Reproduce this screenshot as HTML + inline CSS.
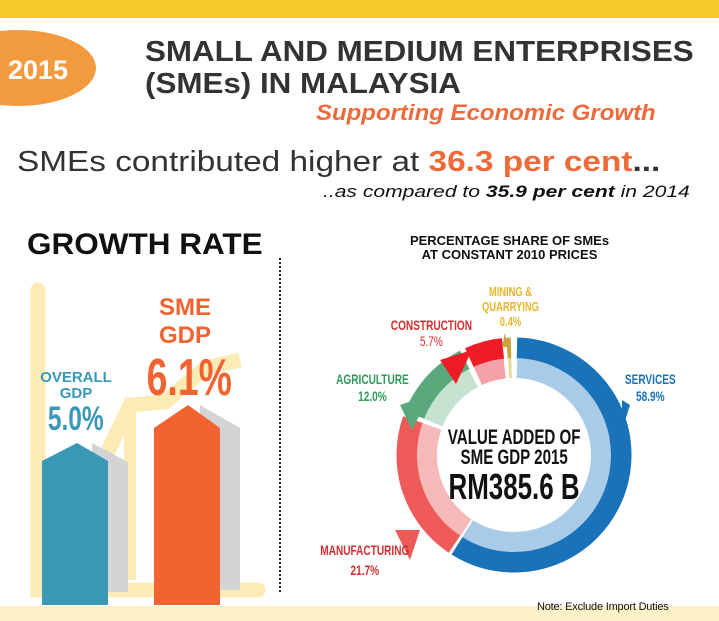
<!DOCTYPE html>
<html><head><meta charset="utf-8"><style>
body{margin:0;width:719px;height:621px;background:#fff;position:relative;overflow:hidden;font-family:"Liberation Sans",sans-serif}
.a{position:absolute;white-space:nowrap}
.n{display:inline-block;transform:scaleX(0.72);transform-origin:center}
.w{transform-origin:left top}
</style></head><body>
<div class="a" style="left:0;top:0;width:719px;height:18px;background:#f7c928"></div>
<div class="a" style="left:0;top:606px;width:719px;height:15px;background:#fdf1c8"></div>
<div class="a" style="left:-60px;top:30px;width:156px;height:76px;border-radius:50%;background:#f29a3e"></div>
<div class="a" style="left:8px;top:55px;font-size:27px;font-weight:bold;color:#fff">2015</div>
<div class="a w" style="left:145px;top:36px;font-size:28.5px;font-weight:bold;color:#333;line-height:32px;transform:scaleX(1.1)">SMALL AND MEDIUM ENTERPRISES<br>(SMEs) IN MALAYSIA</div>
<div class="a w" style="left:316px;top:100px;font-size:22px;font-weight:bold;font-style:italic;color:#ef6a3b;transform:scaleX(1.09)">Supporting Economic Growth</div>
<div class="a w" style="left:17px;top:146px;font-size:29px;color:#333;transform:scaleX(1.15)">SMEs contributed higher at <b style="color:#ef6a3b">36.3 per cent</b><b>...</b></div>
<div class="a w" style="left:323px;top:182px;font-size:17px;font-style:italic;color:#111;transform:scaleX(1.24)">..as compared to <b>35.9 per cent</b> in 2014</div>
<div class="a w" style="left:27px;top:228px;font-size:30px;font-weight:bold;color:#111;transform:scaleX(1.05)">GROWTH RATE</div>
<div class="a" style="left:279px;top:258px;height:334px;border-left:2px dotted #222"></div>
<svg class="a" style="left:0;top:0" width="300" height="621">
<path d="M38 290 V590 H258" stroke="#fdebb5" stroke-width="15" fill="none" stroke-linecap="round"/>
<path d="M80 510 L130 405 L165 402 L205 368 L240 360" stroke="#fdebb5" stroke-width="15" fill="none"/>
<path d="M130 405 V580" stroke="#fdebb5" stroke-width="12" fill="none"/>
<polygon points="92,443 128,462 128,592 92,592" fill="#d3d4d6"/>
<polygon points="42,461 77,443 108,461 108,605 42,605" fill="#3a98b7"/>
<polygon points="200,405 240,428 240,590 200,590" fill="#d3d4d6"/>
<polygon points="154,428 188,405 220,428 220,605 154,605" fill="#f26332"/>
</svg>
<div class="a" style="left:36px;top:370px;font-size:15px;font-weight:bold;color:#3a98b7;text-align:center;line-height:16px;width:80px">OVERALL<br>GDP</div>
<div class="a" style="left:36px;top:400px;width:80px;text-align:center;font-size:34px;font-weight:bold;color:#3a98b7"><span class="n">5.0%</span></div>
<div class="a" style="left:145px;top:294px;width:80px;text-align:center;font-size:24px;font-weight:bold;color:#f26332;line-height:28px">SME<br>GDP</div>
<div class="a" style="left:130px;top:348px;width:110px;text-align:center;font-size:52px;font-weight:bold;color:#f26332"><span class="n">6.1%</span></div>
<div class="a" style="left:300px;top:234px;width:419px;text-align:center;font-size:13px;font-weight:bold;color:#111;line-height:14px">PERCENTAGE SHARE OF SMEs<br>AT CONSTANT 2010 PRICES</div>
<svg class="a" style="left:0;top:0" width="719" height="621">
<g transform="translate(514,455) rotate(-90)" fill="none">
<circle r="107" stroke="#1a72b8" stroke-width="21" stroke-dasharray="393 1000" stroke-dashoffset="-3"/>
<circle r="87" stroke="#a9cbe7" stroke-width="20" stroke-dasharray="319 1000" stroke-dashoffset="-3"/>
<circle r="107" stroke="#ee5a58" stroke-width="21" stroke-dasharray="141 1000" stroke-dashoffset="-399"/>
<circle r="87" stroke="#f6b9b9" stroke-width="20" stroke-dasharray="115 1000" stroke-dashoffset="-324"/>
<circle r="107" stroke="#5aa97c" stroke-width="21" stroke-dasharray="76 1000" stroke-dashoffset="-545"/>
<circle r="87" stroke="#c6e3d1" stroke-width="20" stroke-dasharray="61 1000" stroke-dashoffset="-443"/>
<circle r="107" stroke="#ee1c24" stroke-width="21" stroke-dasharray="35 1000" stroke-dashoffset="-626"/>
<circle r="87" stroke="#f4a2a8" stroke-width="20" stroke-dasharray="28 1000" stroke-dashoffset="-509"/>
<circle r="107" stroke="#c9a33d" stroke-width="21" stroke-dasharray="4 1000" stroke-dashoffset="-665"/>
<circle r="87" stroke="#e9d7a0" stroke-width="20" stroke-dasharray="3 1000" stroke-dashoffset="-541"/>
</g>
<polygon points="502,347 508,347 505,333" fill="#c9a33d"/>
<polygon points="440,360 472,350 456,384" fill="#ee1c24"/>
<polygon points="400,405 430,395 412,430" fill="#5aa97c"/>
<polygon points="622,400 622,430 630,405" fill="#1a72b8"/>
<polygon points="395,530 410,560 420,530" fill="#ee5a58"/>
</svg>
<div class="a" style="left:414px;top:428px;width:200px;text-align:center;font-size:21px;font-weight:bold;color:#111;line-height:20px"><span class="n">VALUE ADDED OF<br>SME GDP 2015</span></div>
<div class="a" style="left:414px;top:466px;width:200px;text-align:center;font-size:36px;font-weight:bold;color:#111"><span class="n">RM385.6 B</span></div>
<div class="a" style="left:455px;top:284px;width:110px;text-align:center;font-size:13px;font-weight:bold;color:#e8b62a;line-height:15px"><span class="n">MINING &amp;<br>QUARRYING<br>0.4%</span></div>
<div class="a" style="left:375px;top:317px;width:110px;text-align:center;font-size:14px;font-weight:bold;color:#d62e30;line-height:16px"><span class="n">CONSTRUCTION<br><span style="font-weight:normal">5.7%</span></span></div>
<div class="a" style="left:317px;top:371px;width:110px;text-align:center;font-size:14px;font-weight:bold;color:#2e9a5c;line-height:17px"><span class="n">AGRICULTURE<br>12.0%</span></div>
<div class="a" style="left:605px;top:371px;width:90px;text-align:center;font-size:14px;font-weight:bold;color:#1a72b8;line-height:17px"><span class="n">SERVICES<br>58.9%</span></div>
<div class="a" style="left:300px;top:540px;width:130px;text-align:center;font-size:14px;font-weight:bold;color:#d62e30;line-height:20px"><span class="n">MANUFACTURING<br>21.7%</span></div>
<div class="a" style="left:537px;top:601px;font-size:11px;color:#111;letter-spacing:-0.2px">Note: Exclude Import Duties</div>
</body></html>
